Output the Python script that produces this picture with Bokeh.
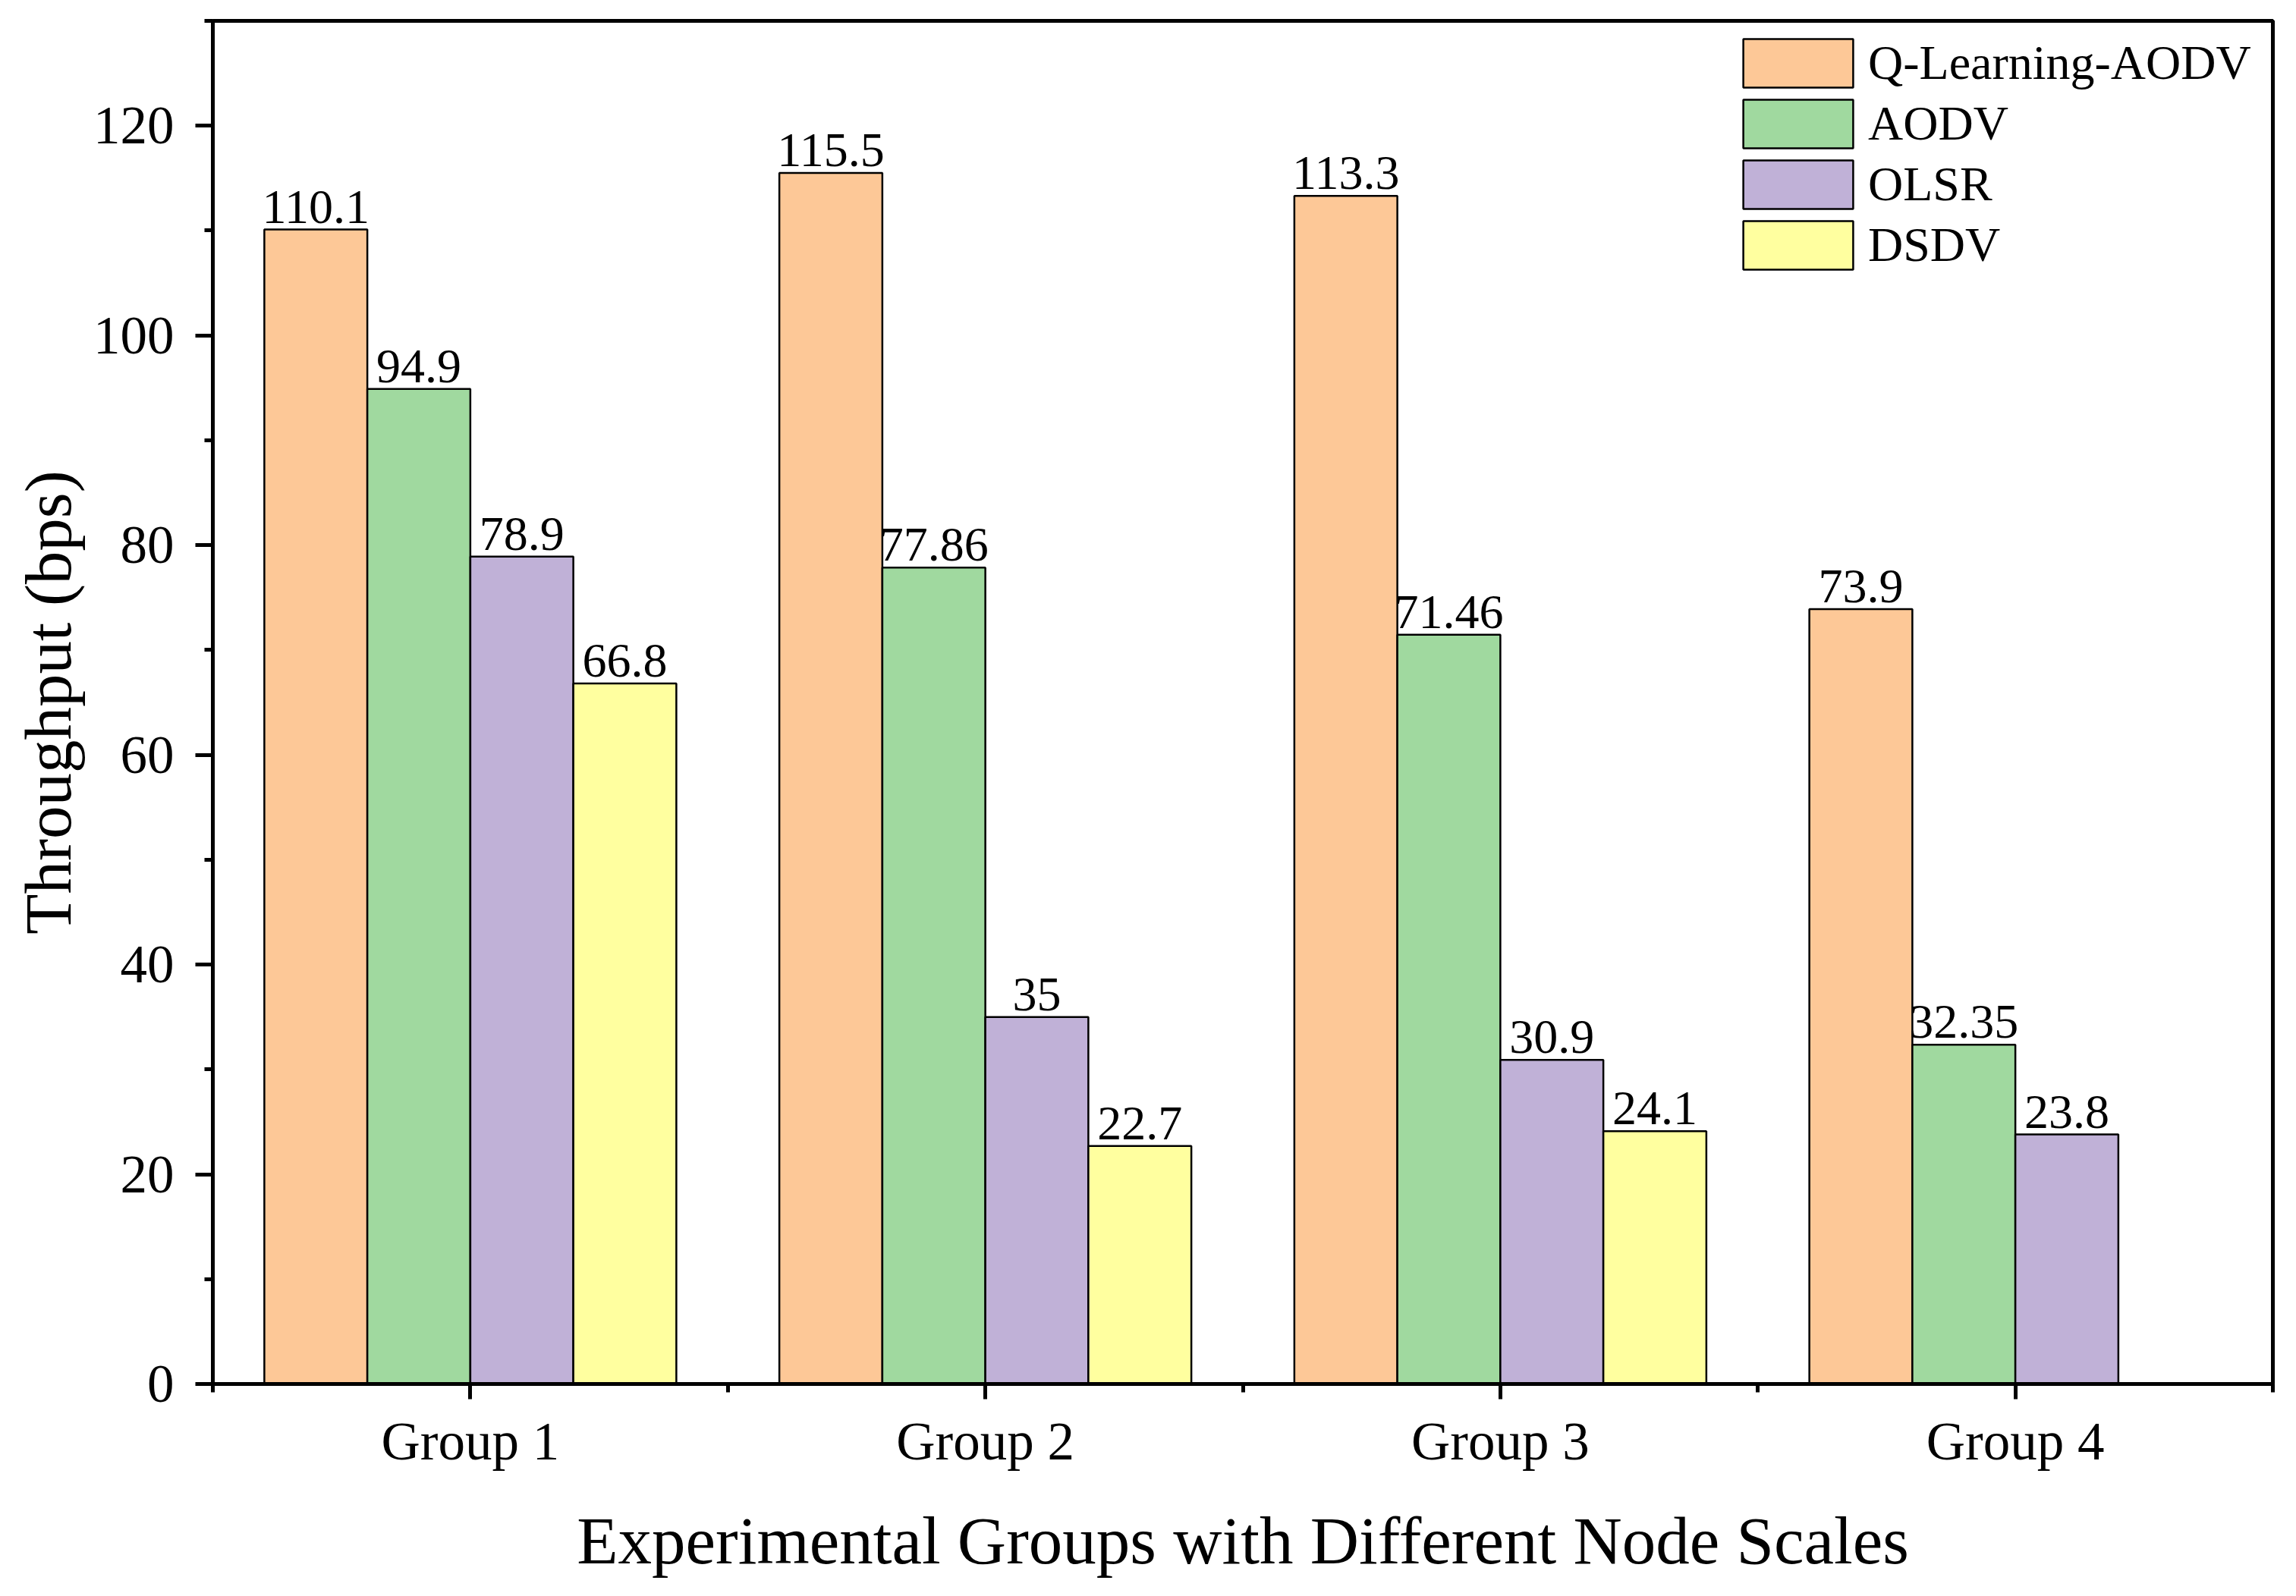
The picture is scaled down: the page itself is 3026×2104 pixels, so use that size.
from bokeh.plotting import figure
from bokeh.models import FixedTicker, Range1d, ColumnDataSource
from bokeh.core.properties import value
from bokeh.embed import file_html
from bokeh.resources import INLINE

groups = ["Group 1", "Group 2", "Group 3", "Group 4"]
series = ["Q-Learning-AODV", "AODV", "OLSR", "DSDV"]
q_learning_aodv = [110.1, 115.5, 113.3, 73.9]
aodv = [94.9, 77.86, 71.46, 32.35]
olsr = [78.9, 35, 30.9, 23.8]
dsdv = [66.8, 22.7, 24.1, None]
label_q = ["110.1", "115.5", "113.3", "73.9"]
label_aodv = ["94.9", "77.86", "71.46", "32.35"]
label_olsr = ["78.9", "35", "30.9", "23.8"]
label_dsdv = ["66.8", "22.7", "24.1", None]
colors = ["#FDC897", "#A0D99F", "#C0B1D7", "#FFFF9F"]
y_ticks = [0, 20, 40, 60, 80, 100, 120]

FONT = "Liberation Serif"
W, H = 3010, 2088

p = figure(width=W, height=H, output_backend="svg", toolbar_location=None,
           x_range=Range1d(0.5, 4.5), y_range=Range1d(0, 130),
           min_border_left=280, min_border_right=15, min_border_top=27,
           min_border_bottom=264)
p.background_fill_color = "white"
p.border_fill_color = "white"
p.xgrid.visible = False
p.ygrid.visible = False
p.outline_line_color = "black"
p.outline_line_width = 5

all_vals = [q_learning_aodv, aodv, olsr, dsdv]
all_labels = [label_q, label_aodv, label_olsr, label_dsdv]
offsets = [-0.3, -0.1, 0.1, 0.3]
for vals, labs, name, col, off in zip(all_vals, all_labels, series, colors, offsets):
    xs, ys, ts = [], [], []
    for gi, (v, t) in enumerate(zip(vals, labs)):
        if v is None:
            continue
        xs.append(gi + 1 + off)
        ys.append(v)
        ts.append(t)
    src = ColumnDataSource(dict(x=xs, y=ys, t=ts))
    p.vbar(x="x", top="y", width=0.2, bottom=0, source=src, fill_color=col,
           line_color="black", line_width=2.5, legend_label=name)
    p.text(x="x", y="y", text="t", source=src, text_font=value(FONT),
           text_font_size="64px", text_align="center", text_baseline="bottom",
           y_offset=-9, text_color="black")

xa = p.xaxis[0]
xa.ticker = FixedTicker(ticks=[1, 2, 3, 4], minor_ticks=[0.5, 1.5, 2.5, 3.5, 4.5])
xa.major_label_overrides = {1: groups[0], 2: groups[1], 3: groups[2], 4: groups[3]}
ya = p.yaxis[0]
ya.ticker = FixedTicker(ticks=y_ticks, minor_ticks=[10, 30, 50, 70, 90, 110, 130])

for ax in (xa, ya):
    ax.axis_line_width = 5
    ax.axis_line_color = "black"
    ax.major_tick_line_width = 5
    ax.minor_tick_line_width = 5
    ax.major_tick_in = 0
    ax.minor_tick_in = 0
    ax.major_label_text_font = FONT
    ax.major_label_text_font_size = "71px"
    ax.major_label_text_color = "black"
    ax.axis_label_text_font = FONT
    ax.axis_label_text_font_style = "normal"
    ax.axis_label_text_color = "black"

xa.major_tick_out = 20
xa.minor_tick_out = 11
xa.major_label_standoff = 16
xa.axis_label = "Experimental Groups with Different Node Scales"
xa.axis_label_text_font_size = "89px"
xa.axis_label_standoff = 40

ya.major_tick_out = 23
ya.minor_tick_out = 11
ya.major_label_standoff = 28
ya.axis_label = "Throughput (bps)"
ya.axis_label_text_font_size = "87px"
ya.axis_label_standoff = 8

lg = p.legend[0]
lg.location = (1995, 1457)
lg.margin = 0
lg.padding = 4
lg.border_line_alpha = 0
lg.background_fill_alpha = 0
lg.glyph_width = 181
lg.glyph_height = 80
lg.label_height = 74
lg.spacing = 0
lg.label_standoff = 2
lg.label_text_font = FONT
lg.label_text_font_size = "64px"
lg.label_text_color = "black"

open("out.html", "w").write(file_html(p, INLINE))
